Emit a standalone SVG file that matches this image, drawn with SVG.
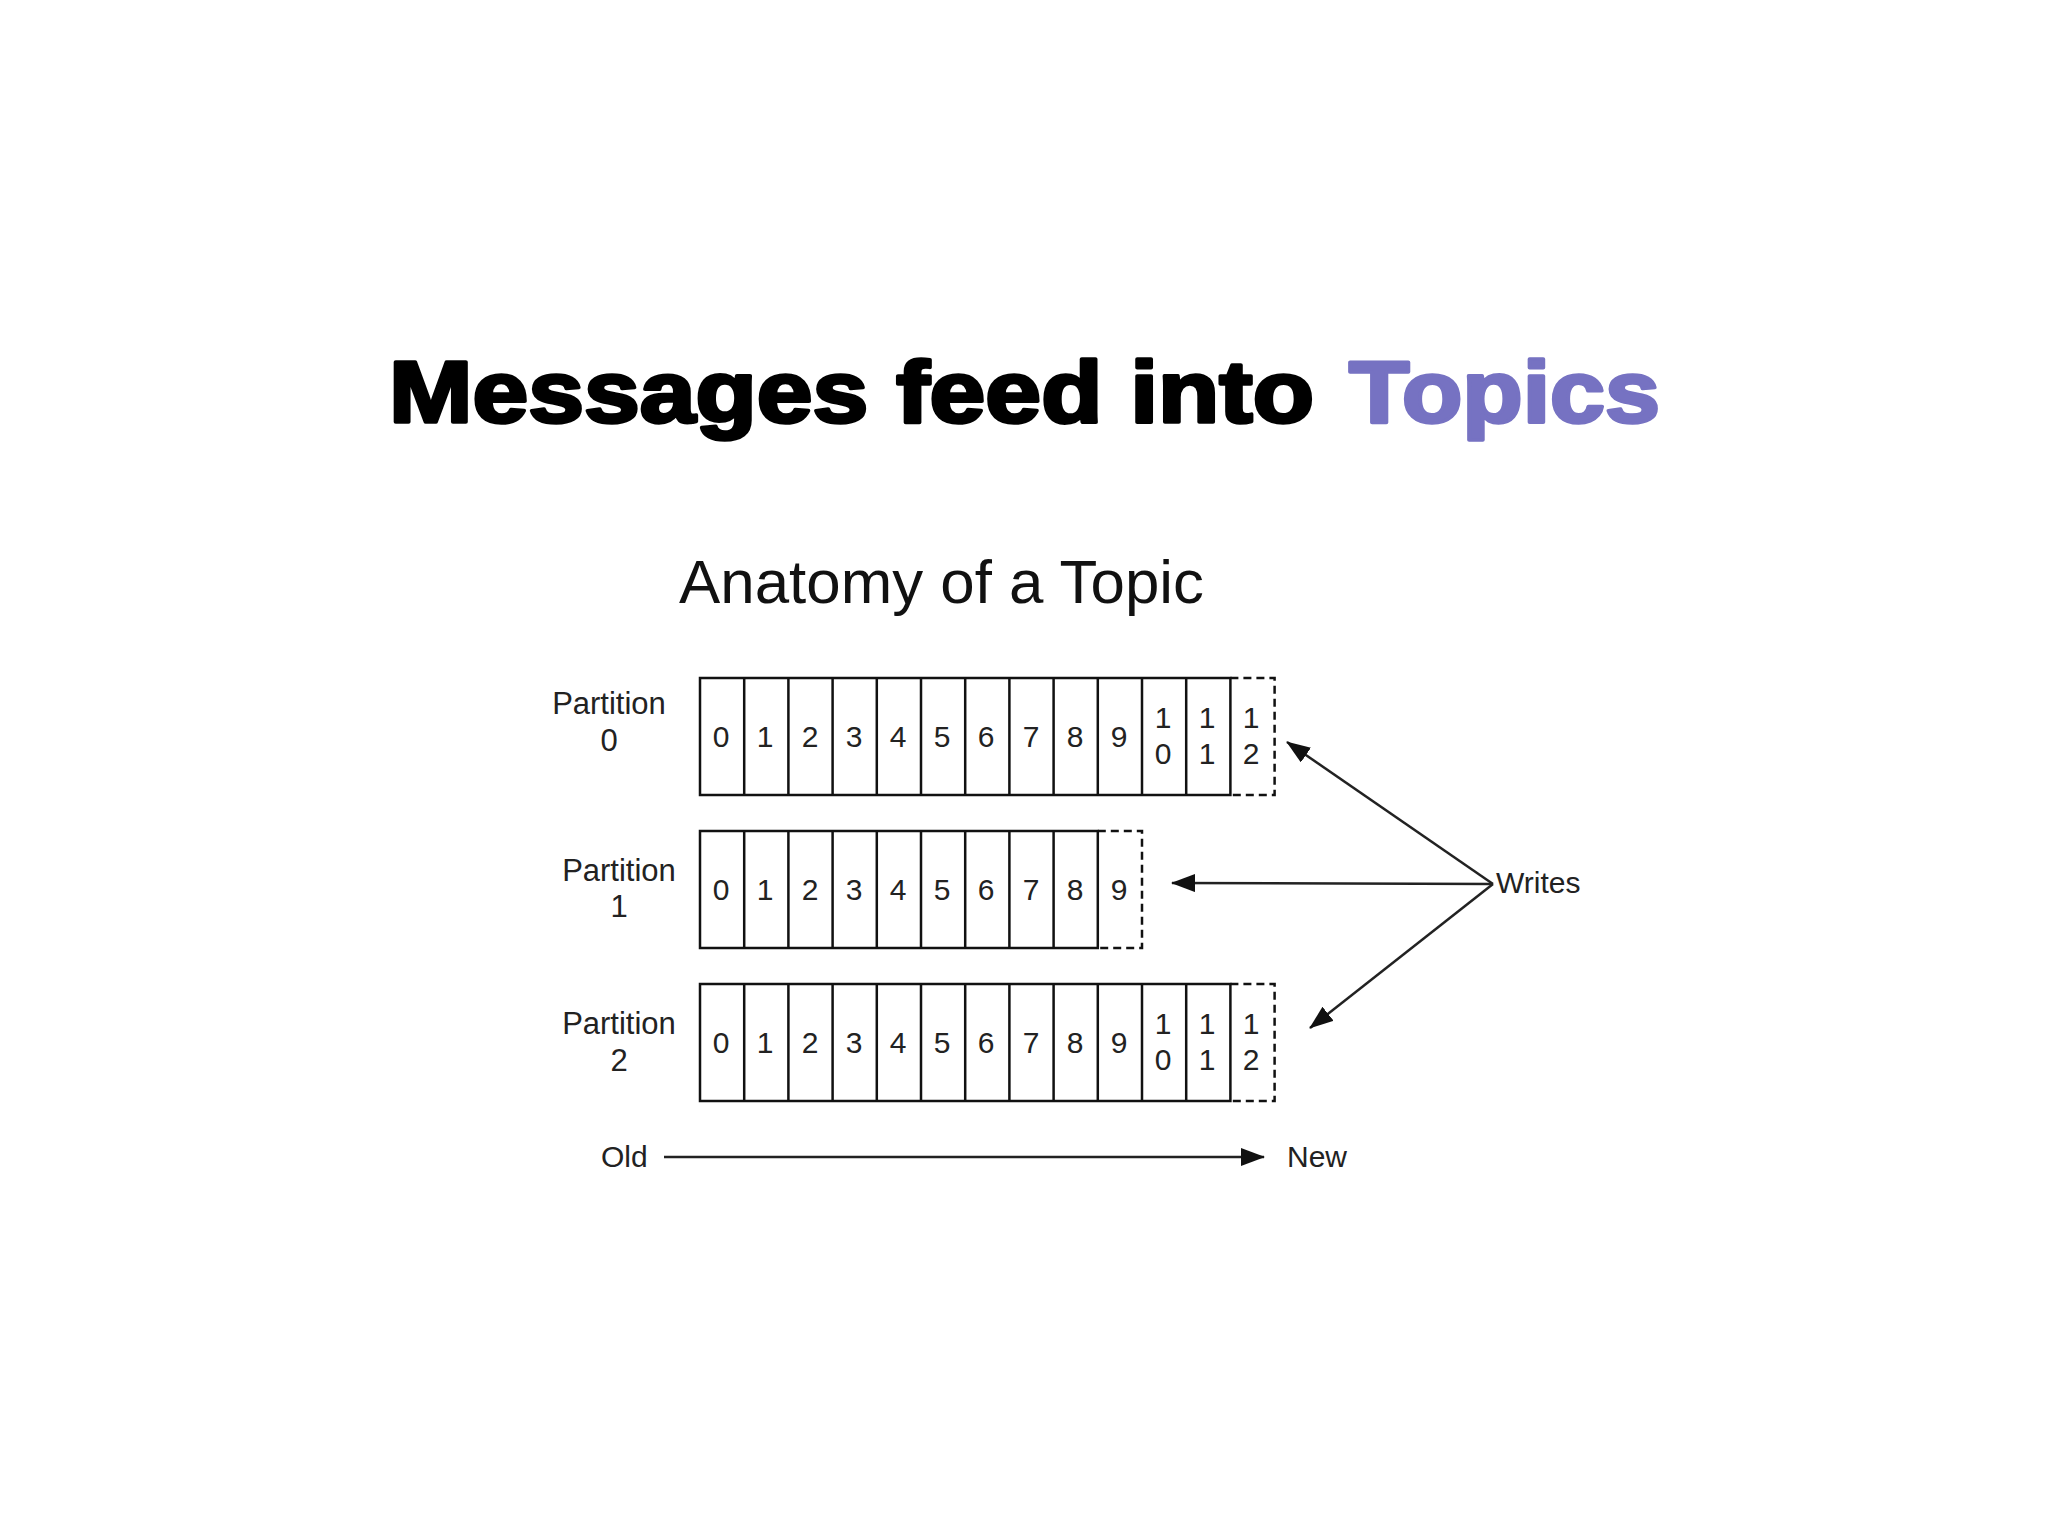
<svg xmlns="http://www.w3.org/2000/svg" width="2048" height="1536" viewBox="0 0 2048 1536">
<defs>
<style>
.title{font-family:"Liberation Sans",Arial,sans-serif;font-weight:bold;font-size:87px;stroke-width:3.5px;stroke-linejoin:round}
.sub{font-family:"Liberation Sans",Arial,sans-serif;font-size:61px;fill:#111}
.lbl{font-family:"Liberation Sans",Arial,sans-serif;font-size:31px;fill:#222;text-anchor:middle}
.dg{font-family:"Liberation Sans",Arial,sans-serif;font-size:30px;fill:#222;text-anchor:middle}
.txt{font-family:"Liberation Sans",Arial,sans-serif;font-size:30px;fill:#222}
.box{fill:none;stroke:#111;stroke-width:2.5}
.dash{fill:none;stroke:#111;stroke-width:2.5;stroke-dasharray:8 5}
.conn{fill:none;stroke:#222;stroke-width:2.5}
</style>
<marker id="ah" viewBox="0 0 24 18" refX="23" refY="9" markerWidth="24" markerHeight="18" markerUnits="userSpaceOnUse" orient="auto">
<path d="M0,0 L24,9 L0,18 Z" fill="#111"/>
</marker>
</defs>
<rect width="2048" height="1536" fill="#fff"/>

<g id="title">
<text class="title" x="389" y="422" fill="#000" stroke="#000" textLength="925" lengthAdjust="spacingAndGlyphs">Messages feed into</text>
<text class="title" x="1349" y="422" fill="#7672c2" stroke="#7672c2" textLength="311" lengthAdjust="spacingAndGlyphs">Topics</text>
</g>

<g id="subtitle">
<text class="sub" x="679" y="603" textLength="525" lengthAdjust="spacingAndGlyphs">Anatomy of a Topic</text>
</g>

<g id="partition0">
<text class="lbl" x="609" y="714">Partition</text>
<text class="lbl" x="609" y="751">0</text>
<rect class="box" x="700" y="678" width="530.4" height="117"/>
<path class="box" d="M744.2,678V795M788.4,678V795M832.6,678V795M876.8,678V795M921,678V795M965.2,678V795M1009.4,678V795M1053.6,678V795M1097.8,678V795M1142,678V795M1186.2,678V795"/>
<path class="dash" d="M1230.4,678H1274.6V795H1230.4"/>
<text class="dg" x="721" y="747">0</text>
<text class="dg" x="765" y="747">1</text>
<text class="dg" x="810" y="747">2</text>
<text class="dg" x="854" y="747">3</text>
<text class="dg" x="898" y="747">4</text>
<text class="dg" x="942" y="747">5</text>
<text class="dg" x="986" y="747">6</text>
<text class="dg" x="1031" y="747">7</text>
<text class="dg" x="1075" y="747">8</text>
<text class="dg" x="1119" y="747">9</text>
<text class="dg" x="1163" y="728">1</text>
<text class="dg" x="1163" y="764">0</text>
<text class="dg" x="1207" y="728">1</text>
<text class="dg" x="1207" y="764">1</text>
<text class="dg" x="1251" y="728">1</text>
<text class="dg" x="1251" y="764">2</text>
</g>

<g id="partition1">
<text class="lbl" x="619" y="881">Partition</text>
<text class="lbl" x="619" y="917">1</text>
<rect class="box" x="700" y="831" width="397.8" height="117"/>
<path class="box" d="M744.2,831V948M788.4,831V948M832.6,831V948M876.8,831V948M921,831V948M965.2,831V948M1009.4,831V948M1053.6,831V948"/>
<path class="dash" d="M1097.8,831H1142V948H1097.8"/>
<text class="dg" x="721" y="900">0</text>
<text class="dg" x="765" y="900">1</text>
<text class="dg" x="810" y="900">2</text>
<text class="dg" x="854" y="900">3</text>
<text class="dg" x="898" y="900">4</text>
<text class="dg" x="942" y="900">5</text>
<text class="dg" x="986" y="900">6</text>
<text class="dg" x="1031" y="900">7</text>
<text class="dg" x="1075" y="900">8</text>
<text class="dg" x="1119" y="900">9</text>
</g>

<g id="partition2">
<text class="lbl" x="619" y="1034">Partition</text>
<text class="lbl" x="619" y="1071">2</text>
<rect class="box" x="700" y="984" width="530.4" height="117"/>
<path class="box" d="M744.2,984V1101M788.4,984V1101M832.6,984V1101M876.8,984V1101M921,984V1101M965.2,984V1101M1009.4,984V1101M1053.6,984V1101M1097.8,984V1101M1142,984V1101M1186.2,984V1101"/>
<path class="dash" d="M1230.4,984H1274.6V1101H1230.4"/>
<text class="dg" x="721" y="1053">0</text>
<text class="dg" x="765" y="1053">1</text>
<text class="dg" x="810" y="1053">2</text>
<text class="dg" x="854" y="1053">3</text>
<text class="dg" x="898" y="1053">4</text>
<text class="dg" x="942" y="1053">5</text>
<text class="dg" x="986" y="1053">6</text>
<text class="dg" x="1031" y="1053">7</text>
<text class="dg" x="1075" y="1053">8</text>
<text class="dg" x="1119" y="1053">9</text>
<text class="dg" x="1163" y="1034">1</text>
<text class="dg" x="1163" y="1070">0</text>
<text class="dg" x="1207" y="1034">1</text>
<text class="dg" x="1207" y="1070">1</text>
<text class="dg" x="1251" y="1034">1</text>
<text class="dg" x="1251" y="1070">2</text>
</g>

<g id="writes">
<text class="txt" x="1496" y="893">Writes</text>
</g>

<g id="old">
<text class="txt" x="601" y="1167">Old</text>
</g>
<g id="new">
<text class="txt" x="1287" y="1167">New</text>
</g>

<g id="connectors">
<line class="conn" x1="1493" y1="884" x2="1287" y2="742" marker-end="url(#ah)"/>
<line class="conn" x1="1493" y1="884" x2="1172" y2="883" marker-end="url(#ah)"/>
<line class="conn" x1="1493" y1="884" x2="1310" y2="1028" marker-end="url(#ah)"/>
<line class="conn" x1="664" y1="1157" x2="1264" y2="1157" marker-end="url(#ah)"/>
</g>
</svg>
